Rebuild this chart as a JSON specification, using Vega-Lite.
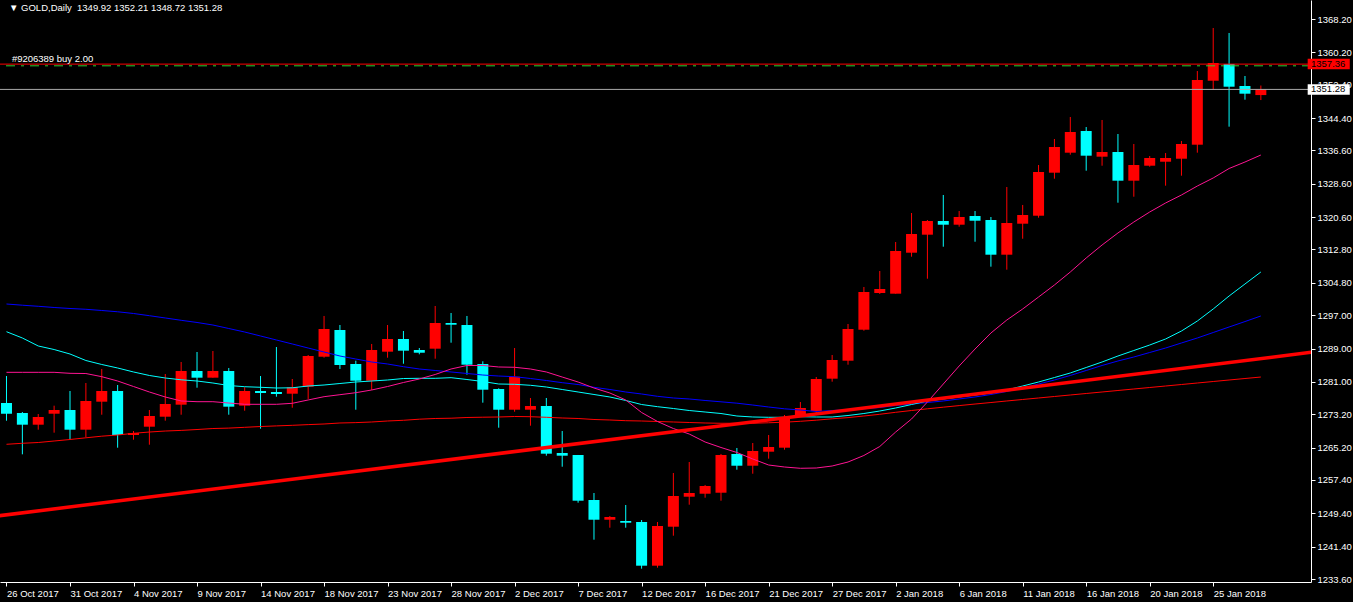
{
  "$schema": "https://vega.github.io/schema/vega-lite/v6.json",
  "width": 1311,
  "height": 582,
  "autosize": "none",
  "padding": {"left": 0, "top": 0, "right": 42, "bottom": 20},
  "background": "#000000",
  "config": {
    "view": {"stroke": null},
    "axis": {
      "grid": false,
      "domainColor": "#ffffff",
      "tickColor": "#ffffff",
      "labelColor": "#ffffff",
      "labelFont": "Liberation Sans",
      "labelFontSize": 9.5,
      "labelOverlap": false,
      "labelSeparation": 0,
      "tickSize": 4,
      "title": null
    }
  },
  "datasets": {
    "bars": [
      {"i":0,"o":1275.90,"h":1282.39,"l":1271.65,"c":1273.33,"m1":1283.28,"m2":1293.04,"m3":1299.70,"m4":1265.98},
      {"i":1,"o":1273.50,"h":1273.74,"l":1263.57,"c":1270.69,"m1":1283.28,"m2":1291.53,"m3":1299.41,"m4":1266.22},
      {"i":2,"o":1270.69,"h":1273.26,"l":1269.49,"c":1272.54,"m1":1283.28,"m2":1289.61,"m3":1299.15,"m4":1266.41},
      {"i":3,"o":1273.33,"h":1275.26,"l":1268.77,"c":1274.22,"m1":1283.28,"m2":1288.76,"m3":1298.86,"m4":1266.77},
      {"i":4,"o":1274.22,"h":1278.79,"l":1267.18,"c":1269.49,"m1":1283.04,"m2":1287.68,"m3":1298.62,"m4":1267.13},
      {"i":5,"o":1269.49,"h":1280.71,"l":1267.66,"c":1276.39,"m1":1282.99,"m2":1286.12,"m3":1298.43,"m4":1267.54},
      {"i":6,"o":1276.22,"h":1284.08,"l":1273.09,"c":1278.79,"m1":1282.23,"m2":1285.16,"m3":1298.14,"m4":1267.93},
      {"i":7,"o":1278.79,"h":1280.23,"l":1265.16,"c":1268.21,"m1":1281.19,"m2":1284.32,"m3":1297.83,"m4":1268.21},
      {"i":8,"o":1268.21,"h":1269.17,"l":1267.08,"c":1268.69,"m1":1279.87,"m2":1283.36,"m3":1297.42,"m4":1268.62},
      {"i":9,"o":1270.21,"h":1274.22,"l":1265.88,"c":1272.78,"m1":1278.55,"m2":1282.52,"m3":1296.89,"m4":1268.93},
      {"i":10,"o":1272.61,"h":1282.87,"l":1271.65,"c":1275.66,"m1":1277.35,"m2":1281.91,"m3":1296.34,"m4":1269.17},
      {"i":11,"o":1275.50,"h":1285.76,"l":1273.09,"c":1283.59,"m1":1276.39,"m2":1281.48,"m3":1295.78,"m4":1269.32},
      {"i":12,"o":1283.59,"h":1288.16,"l":1279.58,"c":1281.99,"m1":1276.22,"m2":1281.19,"m3":1295.26,"m4":1269.53},
      {"i":13,"o":1281.99,"h":1288.40,"l":1281.99,"c":1283.59,"m1":1276.22,"m2":1280.71,"m3":1294.65,"m4":1269.77},
      {"i":14,"o":1283.59,"h":1284.32,"l":1273.09,"c":1275.02,"m1":1275.90,"m2":1280.11,"m3":1293.81,"m4":1269.87},
      {"i":15,"o":1275.26,"h":1279.68,"l":1274.05,"c":1278.79,"m1":1275.59,"m2":1279.82,"m3":1292.97,"m4":1270.06},
      {"i":16,"o":1278.79,"h":1282.39,"l":1269.73,"c":1278.31,"m1":1275.59,"m2":1279.68,"m3":1292.01,"m4":1270.25},
      {"i":17,"o":1278.55,"h":1289.36,"l":1277.42,"c":1278.07,"m1":1275.59,"m2":1279.51,"m3":1291.05,"m4":1270.40},
      {"i":18,"o":1278.14,"h":1281.67,"l":1274.77,"c":1279.68,"m1":1275.83,"m2":1279.56,"m3":1290.09,"m4":1270.54},
      {"i":19,"o":1279.82,"h":1287.44,"l":1276.87,"c":1287.20,"m1":1276.63,"m2":1279.99,"m3":1289.12,"m4":1270.71},
      {"i":20,"o":1287.03,"h":1296.82,"l":1286.79,"c":1293.69,"m1":1277.42,"m2":1280.23,"m3":1288.16,"m4":1270.86},
      {"i":21,"o":1293.45,"h":1294.65,"l":1284.08,"c":1285.04,"m1":1277.90,"m2":1280.59,"m3":1287.20,"m4":1271.10},
      {"i":22,"o":1285.28,"h":1286.07,"l":1274.29,"c":1281.26,"m1":1278.38,"m2":1280.95,"m3":1286.48,"m4":1271.19},
      {"i":23,"o":1281.26,"h":1290.09,"l":1279.03,"c":1288.64,"m1":1279.03,"m2":1281.19,"m3":1285.76,"m4":1271.34},
      {"i":24,"o":1288.24,"h":1294.65,"l":1286.79,"c":1291.29,"m1":1279.87,"m2":1281.43,"m3":1285.28,"m4":1271.58},
      {"i":25,"o":1291.29,"h":1293.21,"l":1285.35,"c":1288.48,"m1":1280.83,"m2":1281.79,"m3":1284.63,"m4":1271.75},
      {"i":26,"o":1288.64,"h":1289.12,"l":1287.61,"c":1287.99,"m1":1281.67,"m2":1281.84,"m3":1284.08,"m4":1272.01},
      {"i":27,"o":1288.96,"h":1299.22,"l":1286.55,"c":1295.13,"m1":1282.76,"m2":1281.84,"m3":1283.72,"m4":1272.18},
      {"i":28,"o":1295.13,"h":1297.54,"l":1290.40,"c":1294.72,"m1":1284.08,"m2":1281.99,"m3":1283.36,"m4":1272.25},
      {"i":29,"o":1294.65,"h":1296.82,"l":1282.71,"c":1285.11,"m1":1284.92,"m2":1281.55,"m3":1283.00,"m4":1272.42},
      {"i":30,"o":1285.28,"h":1285.93,"l":1275.98,"c":1279.10,"m1":1284.92,"m2":1281.07,"m3":1282.63,"m4":1272.49},
      {"i":31,"o":1279.27,"h":1279.44,"l":1269.97,"c":1274.29,"m1":1284.56,"m2":1280.47,"m3":1282.39,"m4":1272.54},
      {"i":32,"o":1274.29,"h":1289.12,"l":1273.81,"c":1282.23,"m1":1284.49,"m2":1280.40,"m3":1282.23,"m4":1272.66},
      {"i":33,"o":1274.29,"h":1277.11,"l":1270.45,"c":1275.18,"m1":1284.08,"m2":1280.16,"m3":1281.79,"m4":1272.61},
      {"i":34,"o":1275.18,"h":1277.11,"l":1263.24,"c":1263.72,"m1":1283.36,"m2":1279.75,"m3":1281.31,"m4":1272.47},
      {"i":35,"o":1263.89,"h":1269.17,"l":1260.59,"c":1263.24,"m1":1282.15,"m2":1279.15,"m3":1280.79,"m4":1272.30},
      {"i":36,"o":1263.41,"h":1263.41,"l":1251.94,"c":1252.42,"m1":1280.95,"m2":1278.55,"m3":1280.35,"m4":1272.18},
      {"i":37,"o":1252.59,"h":1254.27,"l":1243.05,"c":1247.85,"m1":1279.51,"m2":1277.95,"m3":1279.68,"m4":1271.94},
      {"i":38,"o":1247.85,"h":1248.74,"l":1245.93,"c":1248.50,"m1":1278.31,"m2":1277.35,"m3":1279.15,"m4":1271.82},
      {"i":39,"o":1247.54,"h":1251.39,"l":1245.93,"c":1247.13,"m1":1276.63,"m2":1276.51,"m3":1278.55,"m4":1271.65},
      {"i":40,"o":1247.30,"h":1247.78,"l":1236.08,"c":1236.80,"m1":1273.62,"m2":1275.54,"m3":1278.07,"m4":1271.58},
      {"i":41,"o":1236.80,"h":1247.30,"l":1236.32,"c":1246.34,"m1":1271.46,"m2":1275.02,"m3":1277.51,"m4":1271.46},
      {"i":42,"o":1246.17,"h":1259.08,"l":1244.01,"c":1253.55,"m1":1269.77,"m2":1274.58,"m3":1277.11,"m4":1271.34},
      {"i":43,"o":1253.38,"h":1261.72,"l":1251.46,"c":1254.27,"m1":1268.45,"m2":1274.10,"m3":1276.87,"m4":1271.22},
      {"i":44,"o":1254.10,"h":1256.20,"l":1253.14,"c":1255.96,"m1":1266.53,"m2":1273.74,"m3":1276.51,"m4":1271.10},
      {"i":45,"o":1254.34,"h":1263.65,"l":1252.42,"c":1263.41,"m1":1265.21,"m2":1273.38,"m3":1276.19,"m4":1271.03},
      {"i":46,"o":1263.65,"h":1265.09,"l":1259.87,"c":1260.83,"m1":1264.01,"m2":1272.78,"m3":1275.86,"m4":1271.03},
      {"i":47,"o":1260.83,"h":1266.29,"l":1258.91,"c":1264.37,"m1":1262.45,"m2":1272.54,"m3":1275.42,"m4":1271.03},
      {"i":48,"o":1264.20,"h":1268.21,"l":1262.52,"c":1265.33,"m1":1261.00,"m2":1272.47,"m3":1274.94,"m4":1271.15},
      {"i":49,"o":1265.16,"h":1273.02,"l":1264.68,"c":1272.54,"m1":1260.52,"m2":1272.47,"m3":1274.51,"m4":1271.29},
      {"i":50,"o":1272.54,"h":1276.14,"l":1272.54,"c":1274.70,"m1":1260.21,"m2":1272.61,"m3":1274.22,"m4":1271.51},
      {"i":51,"o":1273.98,"h":1282.15,"l":1273.50,"c":1281.67,"m1":1260.28,"m2":1272.54,"m3":1273.86,"m4":1271.77},
      {"i":52,"o":1281.75,"h":1287.44,"l":1281.03,"c":1286.24,"m1":1260.76,"m2":1272.54,"m3":1274.10,"m4":1272.11},
      {"i":53,"o":1286.07,"h":1294.89,"l":1285.11,"c":1293.69,"m1":1261.72,"m2":1272.90,"m3":1274.27,"m4":1272.39},
      {"i":54,"o":1293.52,"h":1303.79,"l":1293.28,"c":1302.59,"m1":1263.29,"m2":1273.38,"m3":1274.51,"m4":1272.78},
      {"i":55,"o":1302.35,"h":1307.63,"l":1302.11,"c":1303.31,"m1":1265.45,"m2":1273.98,"m3":1274.82,"m4":1273.19},
      {"i":56,"o":1302.18,"h":1314.60,"l":1302.18,"c":1312.44,"m1":1268.93,"m2":1274.70,"m3":1275.30,"m4":1273.67},
      {"i":57,"o":1312.03,"h":1321.57,"l":1311.07,"c":1316.52,"m1":1272.06,"m2":1275.54,"m3":1275.66,"m4":1274.10},
      {"i":58,"o":1316.36,"h":1319.89,"l":1305.78,"c":1319.65,"m1":1276.14,"m2":1276.39,"m3":1276.02,"m4":1274.51},
      {"i":59,"o":1319.65,"h":1325.90,"l":1313.47,"c":1318.76,"m1":1280.47,"m2":1276.87,"m3":1276.39,"m4":1274.90},
      {"i":60,"o":1318.76,"h":1322.05,"l":1318.28,"c":1320.61,"m1":1284.80,"m2":1277.35,"m3":1276.87,"m4":1275.28},
      {"i":61,"o":1320.85,"h":1322.05,"l":1314.67,"c":1319.72,"m1":1288.88,"m2":1277.83,"m3":1277.35,"m4":1275.66},
      {"i":62,"o":1319.89,"h":1320.61,"l":1308.67,"c":1311.55,"m1":1292.73,"m2":1278.31,"m3":1277.95,"m4":1276.02},
      {"i":63,"o":1311.55,"h":1327.82,"l":1307.95,"c":1319.17,"m1":1295.85,"m2":1279.03,"m3":1278.67,"m4":1276.39},
      {"i":64,"o":1319.00,"h":1323.50,"l":1315.39,"c":1321.09,"m1":1298.50,"m2":1279.99,"m3":1279.51,"m4":1276.75},
      {"i":65,"o":1320.92,"h":1333.11,"l":1320.44,"c":1331.43,"m1":1301.38,"m2":1280.95,"m3":1280.47,"m4":1277.11},
      {"i":66,"o":1331.26,"h":1339.36,"l":1329.82,"c":1337.44,"m1":1304.27,"m2":1282.03,"m3":1281.43,"m4":1277.47},
      {"i":67,"o":1336.07,"h":1344.65,"l":1335.59,"c":1341.04,"m1":1307.39,"m2":1283.12,"m3":1282.52,"m4":1277.83},
      {"i":68,"o":1341.28,"h":1342.24,"l":1331.74,"c":1335.35,"m1":1310.76,"m2":1284.44,"m3":1283.72,"m4":1278.19},
      {"i":69,"o":1335.11,"h":1343.93,"l":1332.94,"c":1336.23,"m1":1313.88,"m2":1285.76,"m3":1284.92,"m4":1278.55},
      {"i":70,"o":1336.23,"h":1340.56,"l":1324.05,"c":1329.34,"m1":1316.77,"m2":1287.20,"m3":1286.00,"m4":1278.91},
      {"i":71,"o":1329.34,"h":1338.16,"l":1325.49,"c":1333.11,"m1":1319.41,"m2":1288.52,"m3":1286.96,"m4":1279.27},
      {"i":72,"o":1332.94,"h":1335.27,"l":1332.70,"c":1334.79,"m1":1321.81,"m2":1289.84,"m3":1288.04,"m4":1279.63},
      {"i":73,"o":1333.90,"h":1335.99,"l":1328.14,"c":1334.79,"m1":1323.98,"m2":1291.29,"m3":1289.12,"m4":1279.99},
      {"i":74,"o":1334.62,"h":1338.88,"l":1330.54,"c":1338.16,"m1":1325.90,"m2":1293.21,"m3":1290.33,"m4":1280.35},
      {"i":75,"o":1337.99,"h":1355.70,"l":1336.07,"c":1353.54,"m1":1328.06,"m2":1295.61,"m3":1291.53,"m4":1280.71},
      {"i":76,"o":1353.37,"h":1366.04,"l":1351.21,"c":1357.63,"m1":1329.99,"m2":1298.50,"m3":1292.85,"m4":1281.07},
      {"i":77,"o":1357.39,"h":1364.84,"l":1342.32,"c":1351.93,"m1":1332.27,"m2":1301.62,"m3":1294.17,"m4":1281.43},
      {"i":78,"o":1352.10,"h":1354.50,"l":1348.81,"c":1350.25,"m1":1333.83,"m2":1304.51,"m3":1295.48,"m4":1281.79},
      {"i":79,"o":1349.92,"h":1352.21,"l":1348.72,"c":1351.28,"m1":1335.51,"m2":1307.39,"m3":1296.82,"m4":1282.15}
    ],
    "trend": [
      {"i": -1, "p": 1248.55},
      {"i": 83, "p": 1288.48}
    ]
  },
  "layer": [
    {
      "data": {"name": "bars"},
      "mark": {"type": "rule", "strokeWidth": 1},
      "encoding": {
        "x": {
          "field": "i", "type": "quantitative",
          "scale": {"domain": [-0.09375, 81.84375], "nice": false, "zero": false},
          "axis": {
            "orient": "bottom",
            "values": [0,4,8,12,16,20,24,28,32,36,40,44,48,52,56,60,64,68,72,76],
            "tickCount": 100,
            "labelExpr": "['26 Oct 2017','31 Oct 2017','4 Nov 2017','9 Nov 2017','14 Nov 2017','18 Nov 2017','23 Nov 2017','28 Nov 2017','2 Dec 2017','7 Dec 2017','12 Dec 2017','16 Dec 2017','21 Dec 2017','27 Dec 2017','2 Jan 2018','6 Jan 2018','11 Jan 2018','16 Jan 2018','20 Jan 2018','25 Jan 2018'][round(datum.value/4)]",
            "labelAlign": "left",
            "labelBaseline": "top",
            "labelPadding": 2,
            "labelFlush": false,
            "labelOverlap": false,
            "title": null
          }
        },
        "y": {
          "field": "l", "type": "quantitative",
          "scale": {"domain": [1232.88, 1372.77], "nice": false, "zero": false},
          "axis": {
            "orient": "right",
            "values": [1233.6,1241.4,1249.4,1257.4,1265.2,1273.2,1281.0,1289.0,1297.0,1304.8,1312.8,1320.6,1328.6,1336.6,1344.4,1352.4,1360.2,1368.2],
            "tickCount": 100,
            "format": ".2f",
            "labelPadding": 2,
            "labelFlush": false,
            "labelOverlap": false,
            "labelSeparation": 0,
            "labelBaseline": "middle",
            "title": null
          }
        },
        "y2": {"field": "h"},
        "color": {"condition": {"test": "datum.c >= datum.o", "value": "#ff0000"}, "value": "#00ffff"}
      }
    },
    {
      "data": {"name": "bars"},
      "mark": {"type": "bar", "size": 11},
      "encoding": {
        "x": {"field": "i", "type": "quantitative"},
        "y": {"field": "o", "type": "quantitative"},
        "y2": {"field": "c"},
        "color": {"condition": {"test": "datum.c >= datum.o", "value": "#ff0000"}, "value": "#00ffff"}
      }
    },
    {
      "data": {"name": "bars"},
      "mark": {"type": "line", "color": "#ff0000", "strokeWidth": 1},
      "encoding": {"x": {"field": "i", "type": "quantitative"}, "y": {"field": "m4", "type": "quantitative"}}
    },
    {
      "data": {"name": "bars"},
      "mark": {"type": "line", "color": "#0000ff", "strokeWidth": 1},
      "encoding": {"x": {"field": "i", "type": "quantitative"}, "y": {"field": "m3", "type": "quantitative"}}
    },
    {
      "data": {"name": "bars"},
      "mark": {"type": "line", "color": "#00ffff", "strokeWidth": 1},
      "encoding": {"x": {"field": "i", "type": "quantitative"}, "y": {"field": "m2", "type": "quantitative"}}
    },
    {
      "data": {"name": "bars"},
      "mark": {"type": "line", "color": "#ff1493", "strokeWidth": 1},
      "encoding": {"x": {"field": "i", "type": "quantitative"}, "y": {"field": "m1", "type": "quantitative"}}
    },
    {
      "data": {"name": "trend"},
      "mark": {"type": "line", "color": "#ff0000", "strokeWidth": 3.5, "clip": true},
      "encoding": {"x": {"field": "i", "type": "quantitative"}, "y": {"field": "p", "type": "quantitative"}}
    },
    {
      "data": {"values": [{"p": 1356.95}]},
      "mark": {"type": "rule", "color": "#32cd32", "strokeWidth": 1, "strokeDash": [9, 6, 3, 6]},
      "encoding": {"y": {"field": "p", "type": "quantitative"}}
    },
    {
      "data": {"values": [{"p": 1357.36}]},
      "mark": {"type": "rule", "color": "#ff0000", "strokeWidth": 1},
      "encoding": {"y": {"field": "p", "type": "quantitative"}}
    },
    {
      "data": {"values": [{"p": 1351.28}]},
      "mark": {"type": "rule", "color": "#a9a9a9", "strokeWidth": 1},
      "encoding": {"y": {"field": "p", "type": "quantitative"}}
    },
    {
      "data": {"values": [{"p": 1370.13, "t": "▼ GOLD,Daily\u00a0 1349.92 1352.21 1348.72 1351.28"}]},
      "mark": {"type": "text", "align": "left", "baseline": "alphabetic", "font": "Liberation Sans", "fontSize": 9.5, "color": "#ffffff"},
      "encoding": {
        "x": {"datum": 0.16, "type": "quantitative"},
        "y": {"field": "p", "type": "quantitative"},
        "text": {"field": "t"}
      }
    },
    {
      "data": {"values": [{"p": 1357.36, "t": "#9206389 buy 2.00"}]},
      "mark": {"type": "text", "align": "left", "baseline": "alphabetic", "dy": -2.5, "font": "Liberation Sans", "fontSize": 9.5, "color": "#ffffff"},
      "encoding": {
        "x": {"datum": 0.34, "type": "quantitative"},
        "y": {"field": "p", "type": "quantitative"},
        "text": {"field": "t"}
      }
    },
    {
      "data": {"values": [{"t": "1357.36"}]},
      "mark": {"type": "rect", "color": "#ff0000"},
      "encoding": {
        "x": {"datum": 81.95, "type": "quantitative"},
        "x2": {"datum": 84.6},
        "y": {"datum": 1358.62, "type": "quantitative"},
        "y2": {"datum": 1356.1}
      }
    },
    {
      "data": {"values": [{"t": "1351.28"}]},
      "mark": {"type": "rect", "color": "#ffffff"},
      "encoding": {
        "x": {"datum": 81.95, "type": "quantitative"},
        "x2": {"datum": 84.6},
        "y": {"datum": 1352.54, "type": "quantitative"},
        "y2": {"datum": 1350.02}
      }
    },
    {
      "data": {"values": [{"p": 1357.36, "t": "1357.36"}, {"p": 1351.28, "t": "1351.28"}]},
      "mark": {"type": "text", "align": "left", "baseline": "middle", "font": "Liberation Sans", "fontSize": 9.5, "color": "#000000"},
      "encoding": {
        "x": {"datum": 82.16, "type": "quantitative"},
        "y": {"field": "p", "type": "quantitative"},
        "text": {"field": "t"}
      }
    }
  ]
}
